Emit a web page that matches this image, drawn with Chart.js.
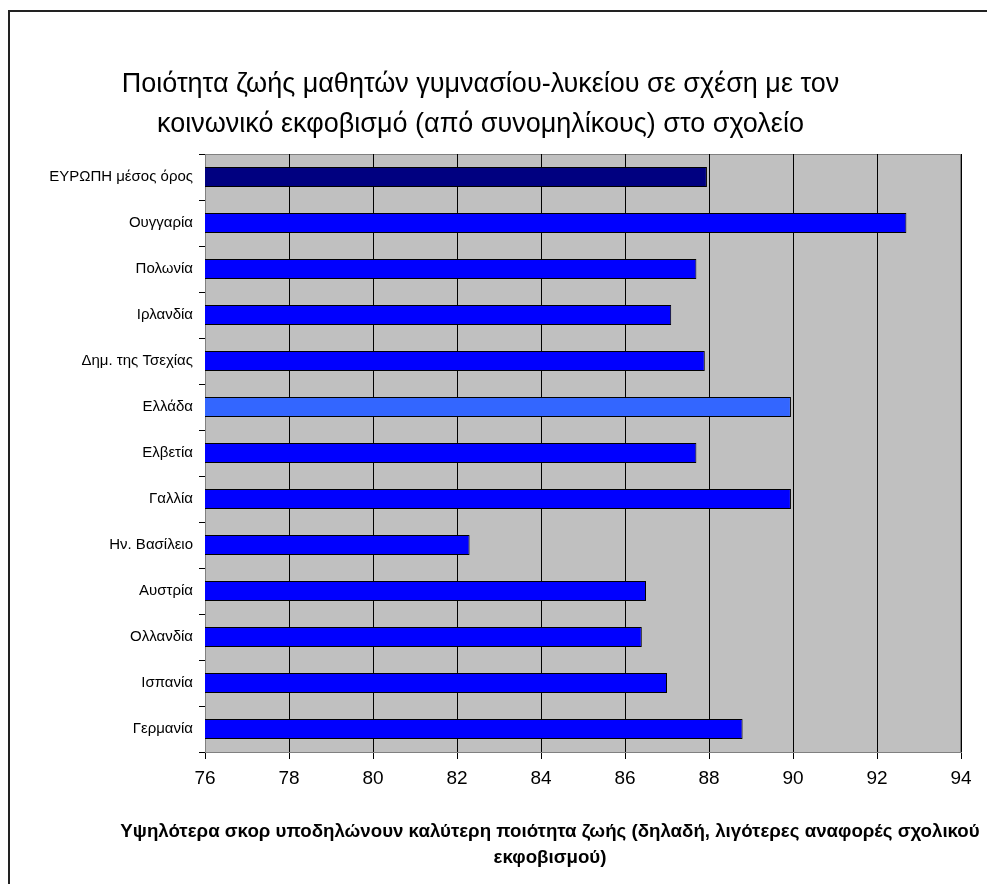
<!DOCTYPE html>
<html>
<head>
<meta charset="utf-8">
<script src="https://cdn.jsdelivr.net/npm/chart.js@4/dist/chart.umd.min.js"></script>
<style>
    html, body { margin: 0; padding: 0; background: #fff; overflow: hidden; }
    #wrap { position: relative; width: 987px; height: 884px; }
    #frame {
        position: absolute; left: 8px; top: 10px; width: 1000px; height: 900px;
        border-left: 2px solid #222; border-top: 2px solid #222;
    }
    #chart { position: absolute; left: 0; top: 0; }
</style>
</head>
<body>
<div id="wrap">
    <div id="frame"></div>
    <canvas id="chart" width="987" height="884"></canvas>
</div>
<script>
const labels = [
    'ΕΥΡΩΠΗ μέσος όρος',
    'Ουγγαρία',
    'Πολωνία',
    'Ιρλανδία',
    'Δημ. της Τσεχίας',
    'Ελλάδα',
    'Ελβετία',
    'Γαλλία',
    'Ην. Βασίλειο',
    'Αυστρία',
    'Ολλανδία',
    'Ισπανία',
    'Γερμανία'
];

const scores = [87.95, 92.7, 87.7, 87.1, 87.9, 89.95, 87.7, 89.95, 82.3, 86.5, 86.4, 87.0, 88.8];

const barColors = ['#000080', '#0000FF', '#0000FF', '#0000FF', '#0000FF', '#3366FF', '#0000FF',
    '#0000FF', '#0000FF', '#0000FF', '#0000FF', '#0000FF', '#0000FF'];

const titleLines = [
    'Ποιότητα ζωής μαθητών γυμνασίου-λυκείου σε σχέση με τον',
    'κοινωνικό εκφοβισμό (από συνομηλίκους) στο σχολείο'
];
const axisTitleLines = [
    'Υψηλότερα σκορ υποδηλώνουν καλύτερη ποιότητα ζωής (δηλαδή, λιγότερες αναφορές σχολικού',
    'εκφοβισμού)'
];

const sans = "'Liberation Sans', Arial, sans-serif";

// grey plot area + x axis title under the ticks
const plotBox = {
    id: 'plotBox',
    beforeDraw(chart) {
        const { ctx, chartArea: a } = chart;
        ctx.save();
        ctx.fillStyle = '#C0C0C0';
        ctx.fillRect(a.left, a.top, a.right - a.left, a.bottom - a.top);
        ctx.strokeStyle = '#808080';
        ctx.lineWidth = 1;
        ctx.strokeRect(a.left + 0.5, a.top + 0.5, a.right - a.left - 1, a.bottom - a.top);
        ctx.restore();
    },
    afterDraw(chart) {
        const ctx = chart.ctx;
        ctx.save();
        ctx.fillStyle = '#000';
        ctx.font = "bold 18.7px " + sans;
        ctx.textAlign = 'center';
        ctx.textBaseline = 'middle';
        ctx.fillText(axisTitleLines[0], 550, 832);
        ctx.fillText(axisTitleLines[1], 550, 858);
        ctx.restore();
    }
};

const config = {
    type: 'bar',
    data: {
        labels,
        datasets: [
            {
                data: scores,
                backgroundColor: barColors,
                borderColor: '#000',
                borderWidth: 1,
                borderSkipped: false,
                categoryPercentage: 1,
                barPercentage: 0.435
            }
        ]
    },
    options: {
        indexAxis: 'y',
        responsive: false,
        animation: false,
        layout: { padding: { left: 0, right: 26, top: 0, bottom: 0 } },
        scales: {
            x: {
                min: 76,
                max: 94,
                ticks: {
                    stepSize: 2,
                    color: '#000',
                    padding: 8,
                    font: { family: sans, size: 19 }
                },
                grid: {
                    color: '#000',
                    lineWidth: 1,
                    tickLength: 7,
                    tickColor: '#000'
                },
                border: { color: '#808080' },
                afterFit(scale) { scale.height = 132; }
            },
            y: {
                ticks: {
                    color: '#000',
                    padding: 6,
                    font: { family: sans, size: 15 }
                },
                grid: {
                    offset: true,
                    drawOnChartArea: false,
                    tickLength: 6,
                    color: '#000'
                },
                border: { color: '#808080' },
                afterFit(scale) { scale.width = 205; }
            }
        },
        plugins: {
            legend: { display: false },
            tooltip: { enabled: false },
            title: {
                display: true,
                text: titleLines,
                color: '#000',
                font: { family: sans, size: 27, weight: 'normal', lineHeight: 1.5 },
                padding: { top: 64, bottom: 9 }
            }
        }
    },
    plugins: [plotBox]
};

const chart = new Chart(document.querySelector('#chart'), config);
</script>
</body>
</html>
